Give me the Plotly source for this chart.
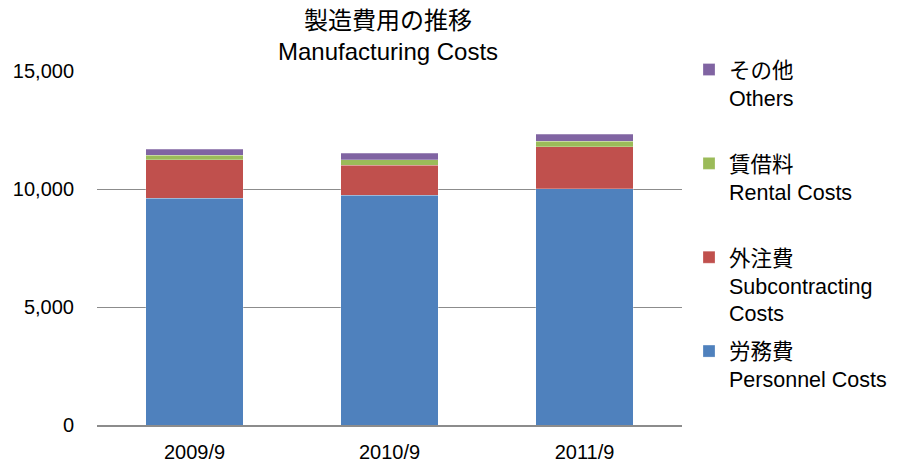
import plotly.graph_objects as go

periods = ["2009/9", "2010/9", "2011/9"]

personnel = [9600, 9730, 10010]
subcontracting = [1640, 1280, 1780]
rental = [200, 220, 230]
others = [240, 290, 300]

series = [
    ("労務費<br>Personnel Costs<br> ", personnel, "#4F81BD"),
    ("外注費<br>Subcontracting<br>Costs", subcontracting, "#C0504D"),
    ("賃借料<br>Rental Costs<br> ", rental, "#9BBB59"),
    ("その他<br>Others<br> ", others, "#8064A2"),
]

FONT = "Liberation Sans, Arial, Noto Sans CJK JP, sans-serif"

fig = go.Figure()
for i, (name, vals, color) in enumerate(series):
    fig.add_trace(go.Bar(
        x=periods, y=vals, name=name, legendgroup=f"g{i}", legendrank=10 - i,
        marker=dict(color=color, line=dict(color="rgba(255,255,255,0.5)", width=0.5)),
    ))

# page body has an 8px margin, so the figure is drawn 8px smaller
fig.update_layout(
    width=889, height=456,
    barmode="stack", bargap=0.5,
    paper_bgcolor="white", plot_bgcolor="white",
    font=dict(family=FONT, size=20, color="black"),
    margin=dict(l=89, r=215, t=63, b=39, autoexpand=False),
    legend=dict(
        x=1.012, xanchor="left", yref="container", y=0.91, yanchor="top",
        traceorder="grouped", tracegroupgap=7,
        valign="top", itemwidth=30, maxheight=440,
        font=dict(size=21.5),
    ),
    showlegend=True,
)
fig.add_annotation(
    text="製造費用の推移<br>Manufacturing Costs",
    xref="paper", yref="paper", x=0.497, y=1, xanchor="center", yanchor="middle",
    yshift=35, showarrow=False, font=dict(size=24),
)
fig.update_yaxes(
    range=[0, 15000], tickvals=[0, 5000, 10000, 15000], tickformat=",",
    showgrid=True, gridcolor="#8c8c8c", gridwidth=1,
    zeroline=False, showline=False, ticks="", ticklabelstandoff=22,
)
fig.update_xaxes(
    showline=True, linecolor="#8c8c8c", linewidth=1.5,
    ticks="", ticklabelstandoff=8,
)

fig.write_html("out.html")
